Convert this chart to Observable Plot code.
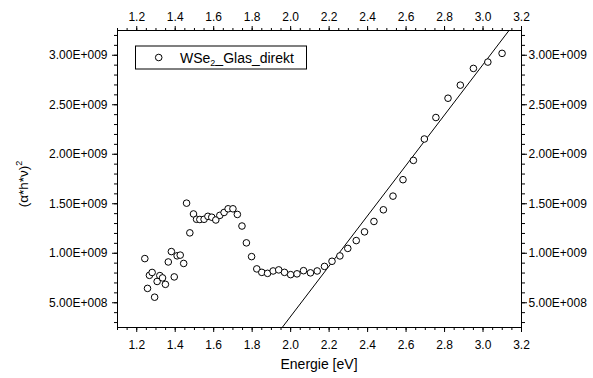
<!DOCTYPE html>
<html>
<head>
<meta charset="utf-8">
<script src="https://cdn.jsdelivr.net/npm/d3@7"></script>
<script src="https://cdn.jsdelivr.net/npm/@observablehq/plot@0.6"></script>
<style>
  html, body { margin: 0; padding: 0; background: white; }
</style>
</head>
<body>
<div id="chart"></div>
<script>
// Measured data: photon energy (eV) and (alpha*h*nu)^2
const energy = [
  1.242, 1.256, 1.266, 1.280, 1.293, 1.306, 1.320, 1.334, 1.349, 1.364,
  1.380, 1.395, 1.410, 1.426, 1.444, 1.459, 1.476, 1.495, 1.511, 1.528,
  1.550, 1.570, 1.590, 1.611, 1.632, 1.654, 1.675, 1.700, 1.723, 1.747,
  1.770, 1.797, 1.824, 1.850, 1.880, 1.909, 1.938, 1.968, 2.000, 2.033,
  2.067, 2.103, 2.138, 2.176, 2.215, 2.256, 2.297, 2.341, 2.384, 2.433,
  2.482, 2.532, 2.584, 2.638, 2.695, 2.755, 2.818, 2.882, 2.950, 3.025,
  3.099
];
const alphaHnu2 = [
  9.46e8, 6.45e8, 7.77e8, 8.06e8, 5.56e8, 7.15e8, 7.74e8, 7.51e8, 6.86e8, 9.12e8,
  1.017e9, 7.61e8, 9.74e8, 9.81e8, 8.97e8, 1.506e9, 1.206e9, 1.397e9, 1.343e9, 1.341e9,
  1.343e9, 1.373e9, 1.364e9, 1.336e9, 1.383e9, 1.412e9, 1.449e9, 1.449e9, 1.392e9, 1.275e9,
  1.105e9, 9.66e8, 8.42e8, 8.07e8, 7.97e8, 8.21e8, 8.32e8, 8.07e8, 7.84e8, 7.92e8,
  8.24e8, 8.02e8, 8.21e8, 8.67e8, 9.19e8, 9.73e8, 1.049e9, 1.128e9, 1.216e9, 1.321e9,
  1.439e9, 1.577e9, 1.743e9, 1.938e9, 2.154e9, 2.371e9, 2.566e9, 2.698e9, 2.867e9, 2.931e9,
  3.019e9
];
// Linear fit line (end points)
const fitEnergy = [1.956, 3.135];
const fitAlphaHnu2 = [2.5e8, 3.25e9];

// Axis ticks
const xTicks = [1.2, 1.4, 1.6, 1.8, 2.0, 2.2, 2.4, 2.6, 2.8, 3.0, 3.2];
const xMinorTicks = [1.1, 1.15, 1.2, 1.25, 1.3, 1.35, 1.4, 1.45, 1.5, 1.55, 1.6, 1.65, 1.7, 1.75, 1.8, 1.85, 1.9, 1.95,
  2.0, 2.05, 2.1, 2.15, 2.2, 2.25, 2.3, 2.35, 2.4, 2.45, 2.5, 2.55, 2.6, 2.65, 2.7, 2.75, 2.8, 2.85, 2.9, 2.95, 3.0, 3.05, 3.1, 3.15, 3.2];
const yTicks = [5e8, 1e9, 1.5e9, 2e9, 2.5e9, 3e9];
const yMinorTicks = [3e8, 4e8, 5e8, 6e8, 7e8, 8e8, 9e8, 1e9, 1.1e9, 1.2e9, 1.3e9, 1.4e9, 1.5e9, 1.6e9, 1.7e9, 1.8e9, 1.9e9,
  2e9, 2.1e9, 2.2e9, 2.3e9, 2.4e9, 2.5e9, 2.6e9, 2.7e9, 2.8e9, 2.9e9, 3e9, 3.1e9, 3.2e9];

const seriesName = ["WSe", "2", "_Glas_direkt"];
const xTitle = "Energie [eV]";
const yTitle = ["(α*h*ν)", "2"];

const points = energy.map((e, i) => ({e, v: alphaHnu2[i]}));
const fit = fitEnergy.map((e, i) => ({e, v: fitAlphaHnu2[i]}));

const sci = v => {
  const ex = Math.floor(Math.log10(v) + 1e-9);
  const m = v / Math.pow(10, ex);
  return m.toFixed(2) + "E+" + String(ex).padStart(3, "0");
};
const f1 = d => d.toFixed(1);

const svg = Plot.plot({
  width: 593,
  height: 378,
  marginLeft: 117,
  marginRight: 72,
  marginTop: 30,
  marginBottom: 51,
  style: {fontFamily: "'Liberation Sans', Arial, Helvetica, sans-serif", fontSize: "12px", background: "white", color: "black"},
  x: {domain: [1.1, 3.2]},
  y: {domain: [2.5e8, 3.25e9]},
  marks: [
    Plot.axisX(xMinorTicks, {anchor: "bottom", tickSize: 3, text: null, label: null}),
    Plot.axisX(xMinorTicks, {anchor: "top", tickSize: 3, text: null, label: null}),
    Plot.axisX(xTicks, {anchor: "bottom", tickSize: 5, tickPadding: 8, tickFormat: f1, label: null}),
    Plot.axisX(xTicks, {anchor: "top", tickSize: 5, tickPadding: 5, tickFormat: f1, label: null}),
    Plot.axisY(yMinorTicks, {anchor: "left", tickSize: 3, text: null, label: null}),
    Plot.axisY(yMinorTicks, {anchor: "right", tickSize: 3, text: null, label: null}),
    Plot.axisY(yTicks, {anchor: "left", tickSize: 5, tickPadding: 5, tickFormat: sci, label: null}),
    Plot.axisY(yTicks, {anchor: "right", tickSize: 5, tickPadding: 2, tickFormat: sci, label: null}),
    Plot.frame({stroke: "black"}),
    Plot.line(fit, {x: "e", y: "v", stroke: "black", strokeWidth: 1, clip: true}),
    Plot.dot(points, {x: "e", y: "v", r: 3.3, stroke: "black", fill: "white", strokeWidth: 1})
  ]
});

const s = d3.select(svg);
// Legend
const lg = s.append("g").attr("font-size", 14).attr("text-anchor", "start");
lg.append("rect").attr("x", 135.5).attr("y", 46).attr("width", 171).attr("height", 23)
  .attr("fill", "white").attr("stroke", "black");
lg.append("circle").attr("cx", 158.7).attr("cy", 57.5).attr("r", 3.3)
  .attr("fill", "white").attr("stroke", "black");
const lt = lg.append("text").attr("x", 180).attr("y", 62.5).attr("fill", "black").attr("text-anchor", "start");
lt.append("tspan").text(seriesName[0]);
lt.append("tspan").attr("font-size", 9).attr("dy", 3.5).text(seriesName[1]);
lt.append("tspan").attr("dy", -3.5).text(seriesName[2]);

// Axis titles
s.append("text").attr("x", 319).attr("y", 368.5).attr("text-anchor", "middle")
  .attr("font-size", 14).attr("fill", "black").text(xTitle);
const yt = s.append("text").attr("transform", "translate(28,184) rotate(-90)").attr("text-anchor", "middle")
  .attr("font-size", 13.5).attr("fill", "black");
yt.append("tspan").text(yTitle[0]);
yt.append("tspan").attr("font-size", 9).attr("dy", -6).text(yTitle[1]);

document.getElementById("chart").appendChild(svg);
</script>
</body>
</html>
